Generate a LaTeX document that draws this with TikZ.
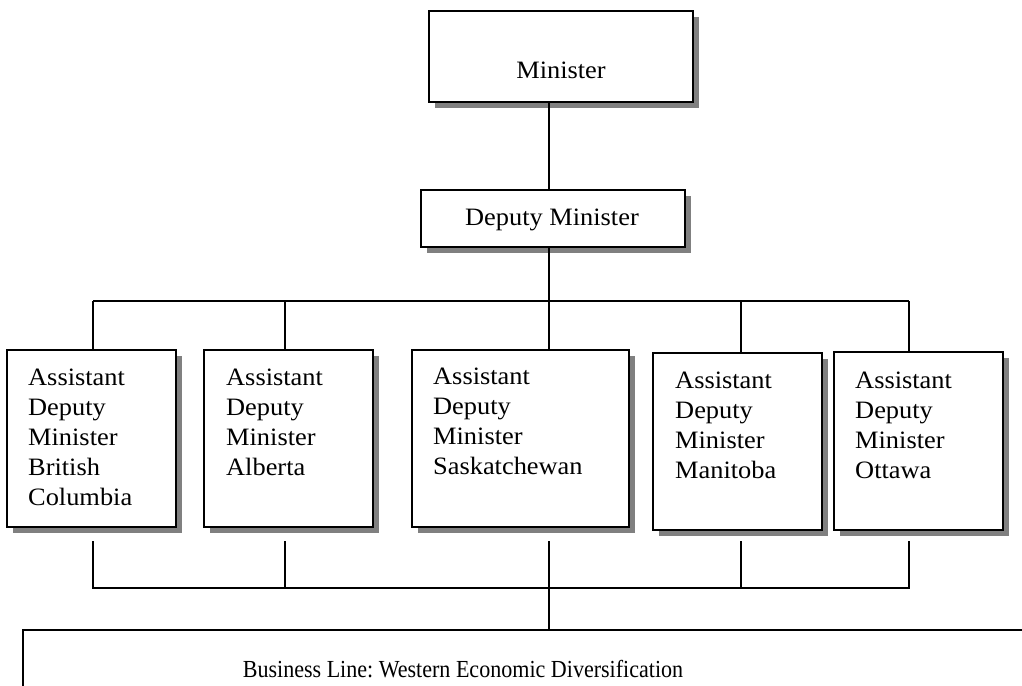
\documentclass[tikz,border=0pt]{standalone}
\usepackage{fontspec}
\setmainfont{Liberation Serif}
\newfontfamily\widefont[FakeStretch=1.055]{Liberation Serif}
\newfontfamily\narrowfont[FakeStretch=0.9]{Liberation Serif}
\usetikzlibrary{shadows}
\definecolor{shadowgray}{HTML}{808080}
\newcommand{\firstline}{\rule{0pt}{20pt}}
\tikzset{
  orgbox/.style={draw=black, line width=1.8pt, fill=white, rectangle,
    inner sep=0pt, outer sep=0pt, anchor=north west,
    general shadow={fill=shadowgray, shadow xshift=6pt, shadow yshift=-6pt}},
  plainbox/.style={draw=black, line width=1.8pt, fill=white, rectangle,
    inner sep=0pt, outer sep=0pt, anchor=north west},
  boxtext/.style={inner sep=0pt, anchor=north west, align=left,
    font=\widefont\fontsize{25}{30}\selectfont},
  titletext/.style={inner sep=0pt, anchor=base,
    font=\widefont\fontsize{25}{30}\selectfont},
  bustext/.style={inner sep=0pt, anchor=base,
    font=\narrowfont\fontsize{24.5}{30}\selectfont\frenchspacing},
  link/.style={draw=black, line width=1.5pt}
}
\begin{document}
\begin{tikzpicture}[x=1pt, y=-1pt]
  \useasboundingbox (0,0) rectangle (1022,685);
  \clip (0,0) rectangle (1022,685);

  % top of the hierarchy
  \node[orgbox, minimum width=264pt, minimum height=91pt] (minister) at (429,11) {};
  \node[titletext] (ministertext) at (561,78) {Minister};
  \node[orgbox, minimum width=264pt, minimum height=57pt] (deputy) at (421,190) {};
  \node[titletext] (deputytext) at (552,225) {Deputy Minister};

  % assistant deputy ministers (text placed 20pt above the first baseline)
  \node[orgbox, minimum width=169pt, minimum height=177pt] (bc) at (7,350) {};
  \node[boxtext] (bctext) at (28,365) {\firstline Assistant\\Deputy\\Minister\\British\\Columbia};
  \node[orgbox, minimum width=169pt, minimum height=177pt] (ab) at (204,350) {};
  \node[boxtext] (abtext) at (226,365) {\firstline Assistant\\Deputy\\Minister\\Alberta};
  \node[orgbox, minimum width=217pt, minimum height=177pt] (sk) at (412,350) {};
  \node[boxtext] (sktext) at (433,364) {\firstline Assistant\\Deputy\\Minister\\Saskatchewan};
  \node[orgbox, minimum width=169pt, minimum height=177pt] (mb) at (653,353) {};
  \node[boxtext] (mbtext) at (675,368) {\firstline Assistant\\Deputy\\Minister\\Manitoba};
  \node[orgbox, minimum width=169pt, minimum height=178pt] (ot) at (834,352) {};
  \node[boxtext] (ottext) at (855,368) {\firstline Assistant\\Deputy\\Minister\\Ottawa};

  % business line, running past the page edges
  \node[plainbox, minimum width=1100pt, minimum height=120pt] (biz) at (23,630) {};
  \node[bustext] (biztext) at (463,677) {Business Line: Western Economic Diversification};

  % connector positions
  \coordinate (spine) at (549,0);
  \coordinate (upbus) at (0,301);
  \coordinate (lowtop) at (0,541);
  \coordinate (lowbus) at (0,588);
  \coordinate (xbc) at (93,0);
  \coordinate (xab) at (285,0);
  \coordinate (xmb) at (741,0);
  \coordinate (xot) at (909,0);

  % minister to deputy to the upper bus
  \draw[link] (minister.south -| spine) -- (deputy.north -| spine);
  \draw[link] (deputy.south -| spine) -- (sk.north -| spine);
  \draw[link] (xbc |- upbus) -- (xot |- upbus);
  \draw[link] (xbc |- upbus) -- (bc.north -| xbc);
  \draw[link] (xab |- upbus) -- (ab.north -| xab);
  \draw[link] (xmb |- upbus) -- (mb.north -| xmb);
  \draw[link] (xot |- upbus) -- (ot.north -| xot);

  % lower bus to the business line
  \draw[link] (xbc |- lowtop) -- (xbc |- lowbus) -- (xot |- lowbus) -- (xot |- lowtop);
  \draw[link] (xab |- lowtop) -- (xab |- lowbus);
  \draw[link] (xmb |- lowtop) -- (xmb |- lowbus);
  \draw[link] (spine |- lowtop) -- (biz.north -| spine);
\end{tikzpicture}
\end{document}
